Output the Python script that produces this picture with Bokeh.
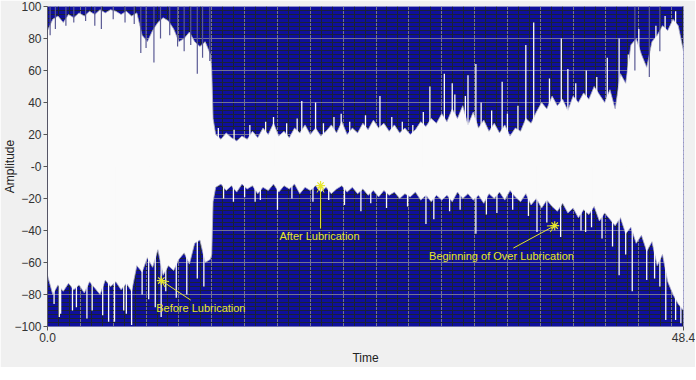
from bokeh.plotting import figure
from bokeh.models import ColumnDataSource, FixedTicker, Label, Arrow, OpenHead, Range1d
from bokeh.embed import file_html
from bokeh.resources import INLINE
import numpy as np

# ---- data ----
time = [0.0, 0.4, 0.8, 1.2, 1.6, 2.0, 2.4, 2.8, 3.2, 3.6, 4.0, 4.4, 4.8, 5.2, 5.6, 6.0,
        6.4, 6.8, 7.2, 7.6, 8.0, 8.4, 8.8, 9.2, 9.6, 10.0, 10.4, 10.8, 11.2, 11.6, 12.0,
        12.4, 12.5, 12.6, 12.8, 13.2, 13.6, 14.0, 14.4, 14.8, 15.2, 15.6, 16.0, 16.4, 16.8,
        17.2, 17.6, 18.0, 18.4, 18.8, 19.2, 19.6, 20.0, 20.4, 20.8, 21.2, 21.6, 22.0, 22.4,
        22.8, 23.2, 23.6, 24.0, 24.4, 24.8, 25.2, 25.6, 26.0, 26.4, 26.8, 27.2, 27.6, 28.0,
        28.4, 28.8, 29.2, 29.6, 30.0, 30.4, 30.8, 31.2, 31.6, 32.0, 32.4, 32.8, 33.2, 33.6,
        34.0, 34.4, 34.8, 35.2, 35.6, 36.0, 36.4, 36.8, 37.2, 37.6, 38.0, 38.4, 38.8, 39.2,
        39.6, 40.0, 40.4, 40.8, 41.2, 41.6, 42.0, 42.4, 42.8, 43.2, 43.6, 44.0, 44.4, 44.8,
        45.2, 45.6, 46.0, 46.4, 46.8, 47.2, 47.6, 48.0, 48.4]

upper = [85, 92, 94, 90, 95, 93, 96, 94, 97, 95, 98, 96, 98, 97, 95, 97,
         94, 96, 82, 78, 85, 90, 93, 91, 86, 78, 80, 84, 78, 75, 78,
         70, 60, 30, 20, 17, 21, 18, 16, 19, 17, 22, 18, 24, 20,
         27, 19, 22, 18, 24, 21, 26, 20, 24, 19, 22, 26, 21, 28,
         20, 24, 21, 27, 23, 29, 24, 27, 22, 26, 21, 24, 20, 23,
         28, 25, 30, 27, 33, 28, 36, 30, 38, 26, 34, 24, 29, 22,
         27, 21, 26, 19, 24, 22, 30, 27, 34, 40, 36, 44, 38, 42,
         35, 44, 40, 46, 42, 50, 45, 40, 48, 36, 58, 52, 76, 80,
         70, 62, 78, 82, 88, 85, 92, 88, 72]

lower = [-68, -80, -74, -78, -73, -77, -74, -79, -72, -76, -80, -71, -75, -72, -77, -73,
         -78, -62, -66, -57, -63, -52, -68, -62, -65, -58, -54, -61, -48, -46, -60,
         -58, -55, -22, -13, -11, -15, -12, -16, -11, -14, -12, -17, -13, -15,
         -11, -16, -12, -14, -11, -17, -13, -15, -12, -16, -13, -17, -14, -12,
         -16, -13, -17, -14, -18, -15, -19, -15, -18, -16, -20, -17, -19, -16,
         -21, -18, -22, -18, -21, -18, -22, -16, -20, -17, -21, -18, -23, -17,
         -20, -16, -21, -15, -19, -22, -17, -24, -20, -26, -21, -25, -28, -23,
         -29, -26, -32, -27, -30, -25, -34, -29, -33, -37, -32, -42, -38, -48,
         -43, -53, -47, -62, -55, -72, -80, -86, -90]

# white spikes reaching up into the upper dark band
top_spike_t = [13.0, 14.2, 15.4, 16.6, 17.2, 18.2, 19.0, 19.35, 20.4, 21.0, 21.8, 22.35,
               23.0, 24.2, 25.3, 26.2, 27.0, 27.8, 28.6, 29.1, 30.2, 30.8, 31.0, 31.8,
               32.0, 32.6, 33.0, 33.8, 34.6, 35.0, 35.8, 36.4, 37.0, 38.2, 39.1, 39.6,
               40.2, 41.0, 41.8, 42.6, 43.5, 44.2, 45.0, 46.3, 47.0, 47.8]
top_spike_v = [24, 23, 26, 28, 31, 27, 30, 41, 40, 27, 31, 33,
               28, 32, 44, 31, 28, 26, 34, 50, 58, 52, 45, 44,
               57, 64, 40, 35, 53, 33, 38, 76, 90, 55, 80, 61,
               52, 60, 56, 68, 80, 70, 86, 88, 94, 97]

# white spikes reaching down into the lower dark band
bottom_spike_t = [0.5, 0.9, 1.0, 1.9, 2.2, 3.0, 3.4, 4.2, 4.65, 5.1, 5.8, 6.0, 6.4, 7.2,
                  7.7, 8.2, 8.65, 9.0, 9.8, 10.6, 11.4, 11.9, 13.4, 14.15, 15.0, 15.8,
                  16.2, 17.5, 18.6, 20.2, 21.4, 22.6, 23.85, 24.6, 25.8, 27.4, 28.8,
                  29.4, 30.6, 31.4, 32.6, 33.4, 34.2, 35.4, 36.6, 37.25, 38.0, 39.05,
                  40.6, 40.95, 41.4, 42.2, 43.0, 43.5, 44.0, 44.5, 45.6, 46.2, 46.6,
                  47.05, 47.8, 48.2]
bottom_spike_v = [-86, -94, -92, -90, -88, -95, -90, -93, -97, -97, -90, -92, -99, -80,
                  -83, -88, -94, -78, -82, -80, -70, -75, -20, -22, -19, -22,
                  -21, -27, -20, -22, -21, -24, -28, -23, -26, -25, -36,
                  -33, -28, -27, -42, -30, -29, -27, -31, -41, -35, -44,
                  -40, -41, -38, -45, -50, -68, -55, -78, -71, -70, -75,
                  -96, -96, -98]

# dark spikes hanging down from the top into the white band
dip_t = [0.2, 0.6, 1.4, 2.0, 2.9, 3.6, 4.1, 5.0, 5.9, 6.6, 7.1, 7.5, 8.1, 8.6, 9.3,
         9.9, 10.4, 10.9, 11.4, 11.8, 12.35, 44.7, 45.8, 46.6]
dip_v = [82, 86, 88, 90, 91, 88, 86, 92, 90, 89, 71, 74, 65, 80, 82,
         75, 72, 76, 58, 68, 66, 60, 56, 72]

note_text = ["Before Lubrication", "After Lubrication", "Beginning of Over Lubrication"]
note_x = [11.67, 20.7, 34.55]
note_y = [-88.4, -43.7, -56.0]
arrow_x0 = [10.9, 20.78, 35.45]
arrow_y0 = [-83.5, -38.8, -51.0]
arrow_x1 = [8.66, 20.78, 38.6]
arrow_y1 = [-71.3, -11.9, -37.0]

y_ticks = [-100, -80, -60, -40, -20, 0, 20, 40, 60, 80, 100]
x_ticks = [0, 48.4]

# ---- styling ----
NAVY = "#0f0f9c"
WHITE = "#fafafa"
YEL = "#e6e632"
FONT = "Liberation Sans"

p = figure(frame_width=636, frame_height=320, x_range=Range1d(0, 48.4),
           y_range=Range1d(-100, 100),
           output_backend="svg", toolbar_location=None,
           min_border_left=37, min_border_right=12, min_border_top=6, min_border_bottom=6,
           background_fill_color=NAVY, border_fill_color="#f0f0f0")
p.outline_line_color = "#9090c8"

src = ColumnDataSource(dict(t=time, upper=upper, lower=lower))
p.varea(x="t", y1="lower", y2="upper", source=src, fill_color=WHITE)
p.line(x="t", y="upper", source=src, line_color="#b0b0c8", line_width=0.8)
p.line(x="t", y="lower", source=src, line_color="#b0b0c8", line_width=0.8)

p.segment(x0=top_spike_t, y0=0, x1=top_spike_t, y1=top_spike_v, line_color=WHITE, line_width=1.3)
p.segment(x0=bottom_spike_t, y0=0, x1=bottom_spike_t, y1=bottom_spike_v, line_color=WHITE, line_width=1.3)
p.segment(x0=dip_t, y0=100, x1=dip_t, y1=dip_v, line_color="#5a5a94", line_width=1.2)

# grid (major + minor)
xmaj = list(np.arange(0, 48.4, 2.5))
xmin = [v for v in np.arange(0, 48.4, 2.5 / 3) if abs(v / 2.5 - round(v / 2.5)) > 1e-6]
ymaj = list(range(-100, 101, 20))
ymin = [float(v) for v in np.arange(-100, 100.1, 2.5) if abs(v % 20) > 1e-6]
p.xgrid.ticker = FixedTicker(ticks=xmaj, minor_ticks=xmin)
p.ygrid.ticker = FixedTicker(ticks=ymaj, minor_ticks=ymin)
p.grid.grid_line_color = "#75758f"
p.grid.grid_line_width = 1
p.grid.minor_grid_line_color = "#1a2236"
p.grid.minor_grid_line_width = 1

# axes
p.xaxis.ticker = FixedTicker(ticks=x_ticks)
p.xaxis.major_label_overrides = {0: "0.0", 48.4: "48.4"}
p.yaxis.ticker = FixedTicker(ticks=y_ticks)
p.yaxis.major_label_overrides = {0: "-0"}
p.xaxis.axis_label = "Time"
p.yaxis.axis_label = "Amplitude"
for ax in (p.xaxis, p.yaxis):
    ax.axis_label_text_font = FONT
    ax.axis_label_text_font_size = "12px"
    ax.axis_label_text_font_style = "normal"
    ax.axis_label_text_color = "#222222"
    ax.major_label_text_font = FONT
    ax.major_label_text_font_size = "12px"
    ax.major_label_text_color = "#333333"
    ax.major_tick_line_color = "#555555"
    ax.major_tick_out = 4
    ax.major_tick_in = 0
    ax.minor_tick_line_color = None
    ax.major_label_standoff = 2
p.yaxis.axis_line_color = "#555566"
p.xaxis.axis_line_color = "#7070b0"
p.yaxis.axis_label_standoff = -6
p.xaxis.axis_label_standoff = 6

# annotations
p.scatter(x=arrow_x1, y=arrow_y1, marker="asterisk", size=9, line_color=YEL, line_width=1.2)
for i in range(3):
    p.add_layout(Arrow(end=OpenHead(size=7, line_color=YEL, line_width=1),
                       x_start=arrow_x0[i], y_start=arrow_y0[i],
                       x_end=arrow_x1[i], y_end=arrow_y1[i],
                       line_color=YEL, line_width=1))
    p.add_layout(Label(x=note_x[i], y=note_y[i], text=note_text[i], text_align="center",
                       text_baseline="middle", text_color=YEL, text_font=FONT,
                       text_font_size="11px"))

open("out.html", "w").write(file_html(p, INLINE))
